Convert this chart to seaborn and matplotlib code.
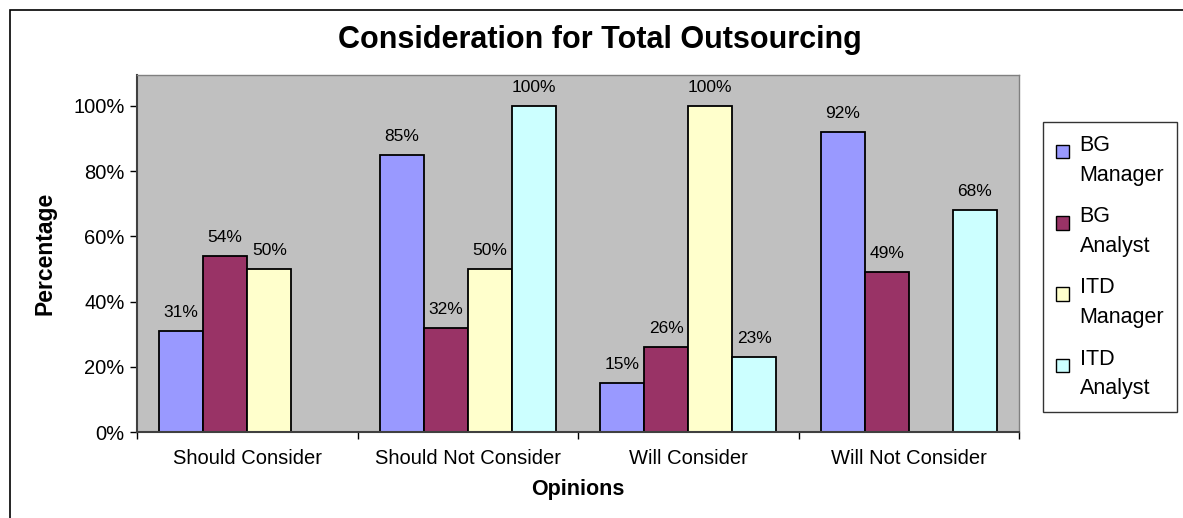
import matplotlib
matplotlib.use("Agg")
import matplotlib.pyplot as plt
import seaborn as sns
import pandas as pd
import numpy as np
from matplotlib.patches import Rectangle
from matplotlib.legend_handler import HandlerPatch
from matplotlib.ticker import FixedLocator, FuncFormatter

categories = ["Should Consider", "Should Not Consider", "Will Consider", "Will Not Consider"]
series = ["BG Manager", "BG Analyst", "ITD Manager", "ITD Analyst"]
bg_manager = [0.31, 0.85, 0.15, 0.92]
bg_analyst = [0.54, 0.32, 0.26, 0.49]
itd_manager = [0.50, 0.50, 1.00, np.nan]
itd_analyst = [np.nan, 1.00, 0.23, 0.68]
colors = ["#9999FF", "#993366", "#FFFFCC", "#CCFFFF"]
legend_labels = ["BG\nManager", "BG\nAnalyst", "ITD\nManager", "ITD\nAnalyst"]

rows = []
for s, vals in zip(series, [bg_manager, bg_analyst, itd_manager, itd_analyst]):
    for c, v in zip(categories, vals):
        rows.append({"Opinion": c, "Group": s, "Value": v})
df = pd.DataFrame(rows)

sns.set_theme(style="white")
plt.rcParams['font.family'] = ['Liberation Sans', 'DejaVu Sans']
plt.rcParams['text.color'] = 'black'
plt.rcParams['xtick.color'] = 'black'
plt.rcParams['ytick.color'] = 'black'
plt.rcParams['axes.labelcolor'] = 'black'

fig = plt.figure(figsize=(11.83, 5.18), dpi=100)
ax = fig.add_axes([137/1183, 1 - 432/518, (1019-137)/1183, (432-75)/518])

sns.barplot(data=df, x="Opinion", y="Value", hue="Group", order=categories,
            hue_order=series, palette=colors, saturation=1, width=0.8, edgecolor="black",
            linewidth=1.3, ax=ax, legend=False)

ax.set_facecolor("#C0C0C0")
ax.set_ylim(0, 1.095)
ax.set_xlim(-0.5, 3.5)
ax.set_yticks([0, 0.2, 0.4, 0.6, 0.8, 1.0])
ax.yaxis.set_major_formatter(FuncFormatter(lambda v, p: f"{int(round(v*100))}%"))
ax.tick_params(axis="y", labelsize=14.5, length=5, width=1, direction="out", left=True, color="black", pad=4)
ax.tick_params(axis="x", which="major", length=0, labelsize=14.5, pad=12)
ax.xaxis.set_minor_locator(FixedLocator([-0.5, 0.5, 1.5, 2.5, 3.5]))
ax.tick_params(axis="x", which="minor", length=5, width=1, direction="out", bottom=True, color="black")

for side in ["left", "bottom"]:
    ax.spines[side].set_color("#404040")
    ax.spines[side].set_linewidth(1.5)
for side in ["top", "right"]:
    ax.spines[side].set_color("#808080")
    ax.spines[side].set_linewidth(1)

for cont in ax.containers:
    labels = []
    for bar in cont:
        h = bar.get_height()
        labels.append("" if np.isnan(h) else f"{int(round(h*100))}%")
    ax.bar_label(cont, labels=labels, padding=8, fontsize=12.5)

ax.set_xlabel("Opinions", fontsize=15.5, fontweight="bold", labelpad=8)
ax.set_ylabel("Percentage", fontsize=16.5, fontweight="bold", labelpad=12)
fig.text(600/1183, 1 - 40/518, "Consideration for Total Outsourcing", fontsize=22,
         fontweight="bold", ha="center", va="center")


def top_square(legend, orig_handle, xdescent, ydescent, width, height, fontsize):
    s = 0.62 * fontsize
    return Rectangle((-xdescent, -ydescent + height - s * 1.3), s, s)


handles = [Rectangle((0, 0), 1, 1, facecolor=c, edgecolor="black", linewidth=1) for c in colors]
leg = fig.legend(handles, legend_labels, loc="upper left",
                 bbox_to_anchor=(1043/1183, 1 - 122/518), fontsize=15.5,
                 frameon=True, fancybox=False, edgecolor="black",
                 handlelength=0.75, handleheight=2.6, handletextpad=0.35,
                 labelspacing=0.95, borderpad=0.6, borderaxespad=0,
                 handler_map={Rectangle: HandlerPatch(patch_func=top_square)})
leg.get_frame().set_linewidth(1)
for t in leg.get_texts():
    t.set_linespacing(1.55)

fig.patches.append(Rectangle((10/1183, -0.1), 1.2, 1 - 10/518 + 0.1, transform=fig.transFigure,
                             fill=False, edgecolor="black", linewidth=1.2))

fig.savefig("out.png", dpi=100)
